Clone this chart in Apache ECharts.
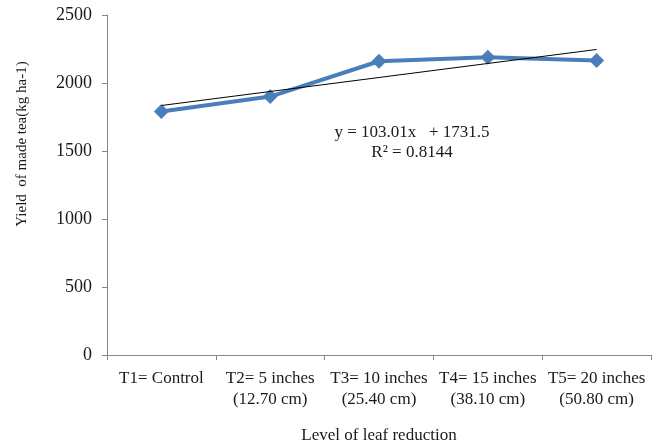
<!DOCTYPE html>
<html>
<head>
<meta charset="utf-8">
<script src="https://cdn.jsdelivr.net/npm/echarts@6/dist/echarts.min.js"></script>
<style>
html,body{margin:0;padding:0;background:#fff;}
#chart{width:656px;height:444px;}
</style>
</head>
<body>
<div id="chart"></div>
<script>
const categories = ['T1= Control', 'T2= 5 inches\n(12.70 cm)', 'T3= 10 inches\n(25.40 cm)', 'T4= 15 inches\n(38.10 cm)', 'T5= 20 inches\n(50.80 cm)'];
const yieldValues = [1790, 1900, 2160, 2190, 2165];
const trendSlope = 103.01;
const trendIntercept = 1731.5;
const trendValues = categories.map((c, i) => trendIntercept + trendSlope * (i + 1));
const yTicks = { min: 0, max: 2500, interval: 500 };

const font = '"Liberation Serif", "Times New Roman", serif';
const chart = echarts.init(document.getElementById('chart'));
chart.setOption({
  animation: false,
  backgroundColor: '#ffffff',
  grid: { left: 107, right: 5, top: 15, bottom: 89, containLabel: false, outerBoundsMode: 'none' },
  xAxis: {
    type: 'category',
    data: categories,
    boundaryGap: true,
    name: 'Level of leaf reduction',
    nameLocation: 'middle',
    nameGap: 72,
    nameTextStyle: { fontFamily: font, fontSize: 17, color: '#1a1a1a' },
    axisLine: { lineStyle: { color: '#868686', width: 1 } },
    axisTick: { show: true, alignWithLabel: false, length: 5, lineStyle: { color: '#868686' } },
    axisLabel: { interval: 0, margin: 13, fontFamily: font, fontSize: 17, lineHeight: 21, color: '#1a1a1a' },
    splitLine: { show: false }
  },
  yAxis: {
    type: 'value',
    min: yTicks.min,
    max: yTicks.max,
    interval: yTicks.interval,
    axisLine: { show: true, lineStyle: { color: '#868686', width: 1 } },
    axisTick: { show: true, length: 5, lineStyle: { color: '#868686' } },
    axisLabel: { margin: 15, fontFamily: font, fontSize: 18, color: '#1a1a1a', formatter: v => String(v) },
    splitLine: { show: false }
  },
  graphic: [
    {
      type: 'text',
      x: 22, y: 144,
      rotation: Math.PI / 2,
      style: {
        text: 'Yield  of made tea(kg ha-1)',
        fontFamily: font, fontSize: 15, fill: '#1a1a1a',
        textAlign: 'center', textVerticalAlign: 'middle'
      }
    },
    {
      type: 'text',
      x: 412, y: 143,
      style: {
        text: 'y = 103.01x   + 1731.5\nR² = 0.8144',
        fontFamily: font, fontSize: 17, lineHeight: 20, fill: '#1a1a1a',
        textAlign: 'center', textVerticalAlign: 'middle'
      }
    }
  ],
  series: [
    {
      type: 'line',
      data: yieldValues,
      symbol: 'diamond',
      symbolSize: 15,
      lineStyle: { color: '#4a7ebb', width: 4 },
      itemStyle: { color: '#4a7ebb' },
      z: 2
    },
    {
      type: 'line',
      data: trendValues,
      symbol: 'none',
      lineStyle: { color: '#000000', width: 1 },
      z: 3
    }
  ]
});
</script>
</body>
</html>
